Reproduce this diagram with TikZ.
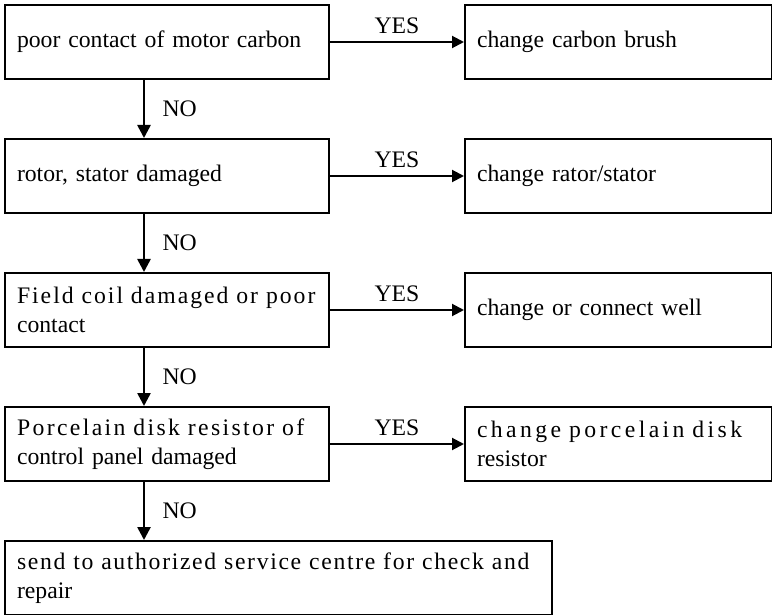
\documentclass[tikz,border=0pt]{standalone}
\usepackage{fontspec}
\setmainfont{Liberation Serif}
\usetikzlibrary{arrows.meta}
\usetikzlibrary{calc}
\usetikzlibrary{positioning}

\newcommand{\spread}[2]{\mbox{\addfontfeature{LetterSpace=#1}#2}}

\begin{document}
\begin{tikzpicture}[x=1pt, y=1pt,
    font=\fontsize{23.7}{29}\selectfont,
    box/.style={draw, line width=2pt, minimum height=74pt,
      inner xsep=12pt, inner ysep=0pt, align=left},
    fault/.style={box, text width=300pt},
    fix/.style={box, text width=283pt},
    yes/.style={line width=2pt, -{Triangle[length=12pt,width=12pt]}},
    no/.style={line width=2.6pt, -{Triangle[length=13pt,width=13pt]}}
  ]
  \useasboundingbox (0,0) rectangle (772,-615);

  \node[fault, anchor=north west] (carbon) at (4,-4) {poor contact of motor carbon};
  \node[fault, below=58pt of carbon] (rotor) {rotor, stator damaged};
  \node[fault, below=58pt of rotor] (coil)
    {\spread{8.4}{Field coil damaged or poor}\\contact};
  \node[fault, below=58pt of coil] (disk)
    {\spread{10}{Porcelain disk resistor of}\\control panel damaged};
  \node[box, text width=523pt, below=58pt of disk.south west, anchor=north west] (service)
    {\spread{7}{send to authorized service centre for check and}\\repair};

  \node[fix, right=134pt of carbon] (brush) {change carbon brush};
  \node[fix, right=134pt of rotor] (stator) {change rator/stator};
  \node[fix, right=134pt of coil] (connect) {change or connect well};
  \node[fix, right=134pt of disk] (resistor)
    {\spread{14.4}{change porcelain disk}\\resistor};

  \foreach \a/\b in {carbon/rotor, rotor/coil, coil/disk, disk/service}
    \draw[no] ($(\a.south west)+(140,0)$) -- node[right=14pt] {NO} ($(\b.north west)+(140,0)$);
  \foreach \a/\b in {carbon/brush, rotor/stator, coil/connect, disk/resistor}
    \draw[yes] (\a) -- node[above=4pt] {YES} (\b);
\end{tikzpicture}
\end{document}
